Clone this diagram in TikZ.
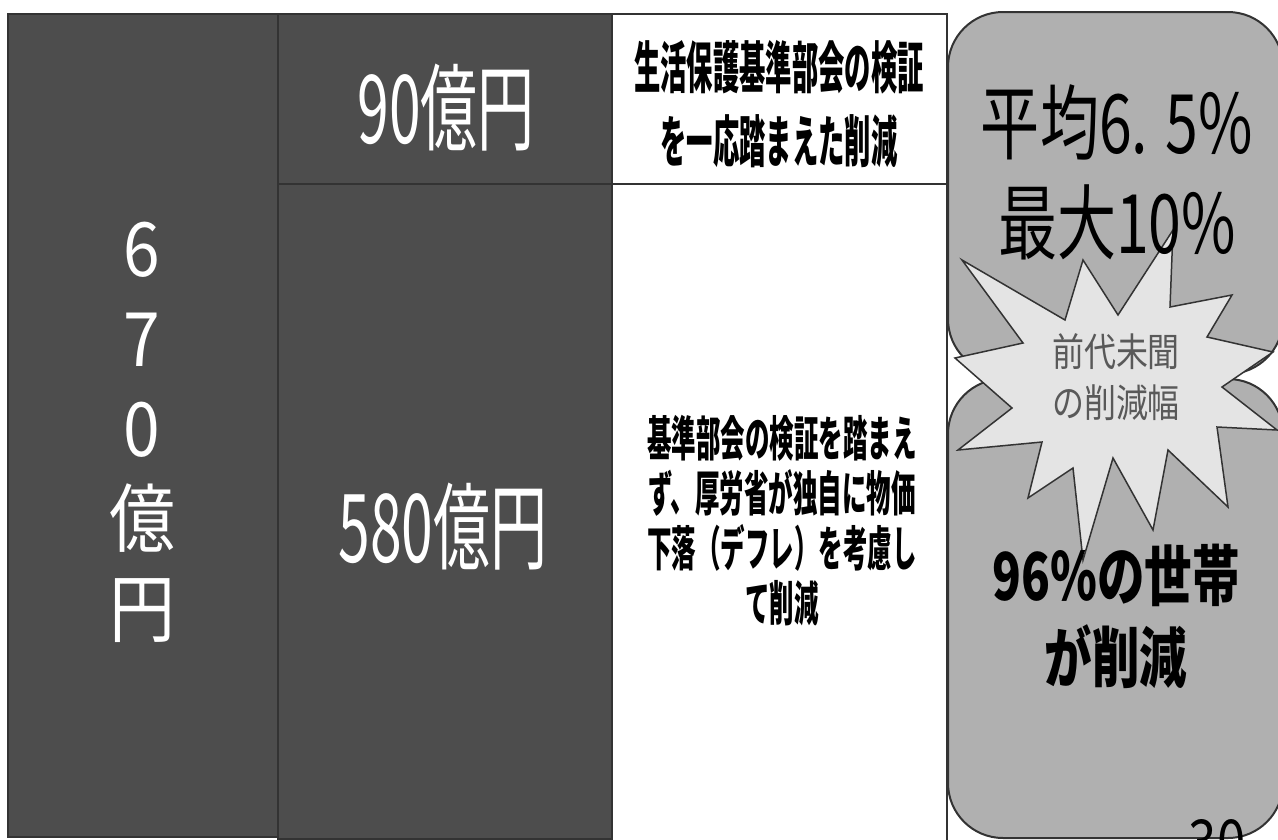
\documentclass[tikz,border=0pt]{standalone}
\usepackage{fontspec}
\newfontfamily\jpA[FakeStretch=0.6]{Noto Sans CJK JP}
\newfontfamily\jpL[FakeStretch=0.88]{Noto Sans CJK JP}
\newfontfamily\jpT[FakeStretch=0.47]{Noto Sans CJK JP}
\newfontfamily\jpU[FakeStretch=0.51]{Noto Sans CJK JP}
\newfontfamily\jpV[FakeStretch=0.72]{Noto Sans CJK JP}
\newfontfamily\jpW[FakeStretch=0.72]{Noto Sans CJK JP}
\newfontfamily\jpS[FakeStretch=0.82]{Noto Sans CJK JP}
\definecolor{darkfill}{HTML}{4D4D4D}
\definecolor{edge}{HTML}{333333}
\definecolor{grayfill}{HTML}{B0B0B0}
\definecolor{starfill}{HTML}{E4E4E4}
\definecolor{startext}{HTML}{595959}
\tikzset{
  darkbox/.style={draw=edge, line width=2pt, fill=darkfill, inner sep=0pt},
  whitebox/.style={draw=edge, line width=2.5pt, fill=white, inner sep=0pt},
  graybox/.style={draw=edge, line width=2pt, fill=grayfill, rounded corners=55pt},
  txt/.style={text=black, align=center, inner sep=0pt},
  wtxt/.style={txt, text=white},
}
\begin{document}
\begin{tikzpicture}[x=1pt,y=-1pt]
\useasboundingbox (0,0) rectangle (1278,839);
% left column
\node[darkbox, minimum width=270, minimum height=823] (left) at (143,425.5) {};
% middle column
\node[darkbox, minimum width=334, minimum height=170] (midtop) at (445,99) {};
\node[darkbox, minimum width=334, minimum height=655] (midbot) at (445,511.5) {};
% white top box
\node[whitebox, minimum width=335, minimum height=170] (wtop) at (779.5,99) {};
\coordinate (wr1) at (947,184);
\coordinate (wr2) at (947,845);
\draw[edge, line width=2pt] (wr1) -- (wr2);
% gray rounded boxes
\draw[graybox] (948,12) rectangle (1283,374);
\draw[graybox] (948,379) rectangle (1283,838);
% starburst
\filldraw[draw=edge, line width=1.5pt, fill=starfill, line join=miter]
 (962,260) -- (1023,343) -- (955,358) -- (1012,408) -- (958,450) -- (1042,442)
 -- (1028,498) -- (1073,468) -- (1083,560) -- (1113,458) -- (1153,530) -- (1168,450)
 -- (1228,507) -- (1217,427) -- (1277,430) -- (1222,387) -- (1273,352) -- (1207,337)
 -- (1232,295) -- (1170,307) -- (1173,230) -- (1118,315) -- (1083,260) -- (1065,320)
 -- cycle;
% texts
\node[wtxt, font=\jpL\fontsize{75}{90}\selectfont] (t670) at (142,432) {6\\7\\0\\億\\円};
\node[wtxt, font=\jpA\fontsize{95}{95}\selectfont] (t90) at (446,108) {90億円};
\node[wtxt, font=\jpA\fontsize{95}{95}\selectfont] (t580) at (443,527) {580億円};
\node[txt, font=\jpT\bfseries\fontsize{56}{74}\selectfont] (ttop) at (779,104.5)
  {生活保護基準部会の検証\\を一応踏まえた削減};
\node[txt, font=\jpU\bfseries\fontsize{48}{55}\selectfont] (tbot) at (782,521)
  {基準部会の検証を踏まえ\\ず、厚労省が独自に物価\\下落（デフレ）を考慮し\\て削減};
\node[txt, font=\jpV\fontsize{82}{100}\selectfont] (tavg) at (1117,172)
  {平均6. 5\%\\最大10\%};
\node[txt, font=\jpW\bfseries\fontsize{66}{82}\selectfont] (t96) at (1116,616)
  {96\%の世帯\\が削減};
\node[txt, text=startext, font=\jpS\fontsize{39}{51}\selectfont] (tstar) at (1116,377)
  {前代未聞\\の削減幅};
\node[inner sep=0pt, anchor=base, font=\jpS\fontsize{62}{62}\selectfont] (pnum) at (1217,864) {30};
\end{tikzpicture}
\end{document}
